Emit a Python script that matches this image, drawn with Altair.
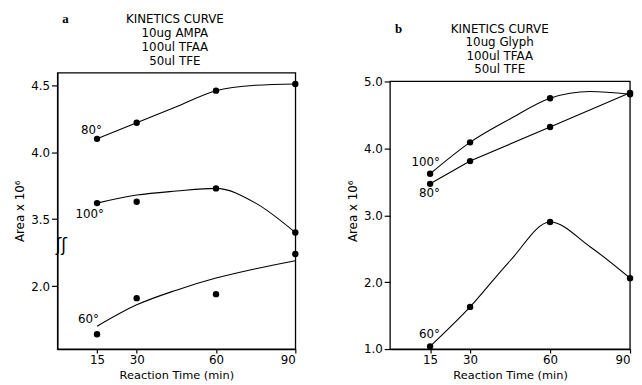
import altair as alt
import pandas as pd

# ---------------- data ----------------
minutes = [15, 30, 60, 90]
curve_minutes = [15, 30, 45, 60, 75, 90]

# panel a (10 ug AMPA)
a_80 = [4.10, 4.22, 4.46, 4.51]
a_100 = [3.62, 3.63, 3.73, 3.40]
a_60 = [1.64, 1.91, 1.94, 2.24]          # drawn below the axis break
a_80_curve = [4.10, 4.22, 4.34, 4.46, 4.50, 4.51]
a_100_curve = [3.62, 3.68, 3.71, 3.73, 3.62, 3.40]
a_60_curve = [1.70, 1.86, 1.97, 2.06, 2.13, 2.19]
a_break_shift = 1.0                       # lower axis segment: 2.0 sits where 3.0 would
a_tick_values = [3.0, 3.5, 4.0, 4.5]

# panel b (10 ug Glyph)
b_100 = [3.62, 4.09, 4.75, 4.81]
b_80 = [3.47, 3.81, 4.32, 4.83]
b_60 = [1.04, 1.63, 2.90, 2.06]
b_100_curve = [3.62, 4.09, 4.44, 4.75, 4.85, 4.81]
b_60_curve = [1.04, 1.63, 2.32, 2.90, 2.53, 2.06]
b_tick_values = [1.0, 2.0, 3.0, 4.0, 5.0]

title_a = ["KINETICS CURVE", "10ug AMPA", "100ul TFAA", "50ul TFE"]
title_b = ["KINETICS CURVE", "10ug  Glyph", "100ul TFAA", "50ul TFE"]

FONT = "DejaVu Sans"


def frame(xs, series):
    rows = []
    for name, vals in series.items():
        for t, v in zip(xs, vals):
            rows.append({"series": name, "t": t, "v": v})
    return pd.DataFrame(rows)


def series_label(text, t, v, dx, dy):
    return alt.Chart(pd.DataFrame({"t": [t], "v": [v], "lab": [text]})).mark_text(
        align="right", baseline="alphabetic", dx=dx, dy=dy, font=FONT, fontSize=12,
        color="black"
    ).encode(x="t:Q", y="v:Q", text="lab:N")


def heading(lines, letter, cx, y0, line_h):
    block = alt.Chart(pd.DataFrame({"s": [0]})).mark_text(
        font=FONT, fontSize=12, align="center", baseline="alphabetic",
        lineHeight=line_h, color="black"
    ).encode(x=alt.value(cx), y=alt.value(y0), text=alt.value(lines))
    let = alt.Chart(pd.DataFrame({"s": [letter]})).mark_text(
        font="Liberation Serif", fontWeight="bold", fontSize=13, align="left",
        baseline="alphabetic", color="black"
    ).encode(x=alt.value(5), y=alt.value(y0), text="s:N")
    return block, let


# ---------------- panel a ----------------
a_pts = frame(minutes, {"80": a_80, "100": a_100,
                        "60": [v + a_break_shift for v in a_60]})
a_crv = frame(curve_minutes, {"80": a_80_curve, "100": a_100_curve,
                              "60": [v + a_break_shift for v in a_60_curve]})

xa = alt.X("t:Q", scale=alt.Scale(domain=[0, 90], nice=False),
           axis=alt.Axis(values=minutes, title="Reaction Time (min)", format="d"))
ya = alt.Y("v:Q", scale=alt.Scale(domain=[2.53, 4.595], nice=False, zero=False),
           axis=alt.Axis(values=a_tick_values, title="Area x 10⁶",
                         labelExpr="datum.value == 3 ? '2.0' : format(datum.value, '.1f')"))

a_lines = alt.Chart(a_crv).mark_line(interpolate="monotone", color="black",
                                     strokeWidth=1.1).encode(x=xa, y=ya, detail="series:N")
a_dots = alt.Chart(a_pts).mark_circle(size=42, color="black", opacity=1).encode(
    x="t:Q", y="v:Q")
a_break = alt.Chart(pd.DataFrame({"t": [0], "v": [3.3], "s": ["ʃʃ"]})).mark_text(
    font=FONT, fontSize=17, dx=4, color="black").encode(x="t:Q", y="v:Q", text="s:N")
a_head, a_letter = heading(title_a, "a", 119, -50, 14)

panel_a = alt.layer(
    a_lines, a_dots, a_break, a_head, a_letter,
    series_label("80°", 15, a_80[0], 5, -5),
    series_label("100°", 15, a_100[0], 7, 15),
    series_label("60°", 15, a_60[0] + a_break_shift, 2, -11),
).properties(
    width=241, height=280,
    view=alt.ViewBackground(stroke="black", strokeWidth=1.3),
)

# ---------------- panel b ----------------
b_pts = frame(minutes, {"100": b_100, "80": b_80, "60": b_60})
b_crv = frame(curve_minutes, {"100": b_100_curve, "60": b_60_curve})
b_straight = frame(minutes, {"80": b_80})

xb = alt.X("t:Q", scale=alt.Scale(domain=[0, 90], nice=False),
           axis=alt.Axis(values=minutes, title="Reaction Time (min)", format="d"))
yb = alt.Y("v:Q", scale=alt.Scale(domain=[1.0, 5.133], nice=False, zero=False),
           axis=alt.Axis(values=b_tick_values, title="Area x 10⁶", format=".1f",
                         domain=False))

b_box = alt.Chart(pd.DataFrame({"t": [0], "t2": [90], "v": [1.0], "v2": [5.0]})).mark_rect(
    fill="transparent", stroke="black", strokeWidth=1.3).encode(
    x=xb, x2="t2:Q", y=yb, y2="v2:Q")
b_lines = alt.Chart(b_crv).mark_line(interpolate="monotone", color="black",
                                     strokeWidth=1.1).encode(x="t:Q", y="v:Q", detail="series:N")
b_line80 = alt.Chart(b_straight).mark_line(color="black", strokeWidth=1.1).encode(
    x="t:Q", y="v:Q")
b_dots = alt.Chart(b_pts).mark_circle(size=42, color="black", opacity=1).encode(
    x="t:Q", y="v:Q")
b_head, b_letter = heading(title_b, "b", 111, -40, 13.5)

panel_b = alt.layer(
    b_box, b_lines, b_line80, b_dots, b_head, b_letter,
    series_label("100°", 15, b_100[0], 10, -8),
    series_label("80°", 15, b_80[0], 10, 13),
    series_label("60°", 15, b_60[0], 10, -8),
).properties(
    width=243, height=280,
    view=alt.ViewBackground(stroke="transparent"),
)

chart = alt.hconcat(panel_a, panel_b, spacing=96, bounds="flush").properties(
    padding={"left": 5, "top": 2, "right": 0, "bottom": 0}
).configure_axis(
    labelFont=FONT, titleFont=FONT, labelFontSize=12, titleFontSize=12,
    labelColor="black", titleColor="black", domainColor="black", tickColor="black",
    domainWidth=1.3, tickWidth=1.2, grid=False, titleFontWeight="normal",
).configure_axisY(
    tickSize=6, labelPadding=2, titlePadding=4,
).configure_axisX(
    tickSize=4, labelPadding=2, titlePadding=4, titleFontSize=11.5,
).configure_view(stroke="black")

chart.save("out.html", embed_options={"renderer": "svg", "actions": False})
